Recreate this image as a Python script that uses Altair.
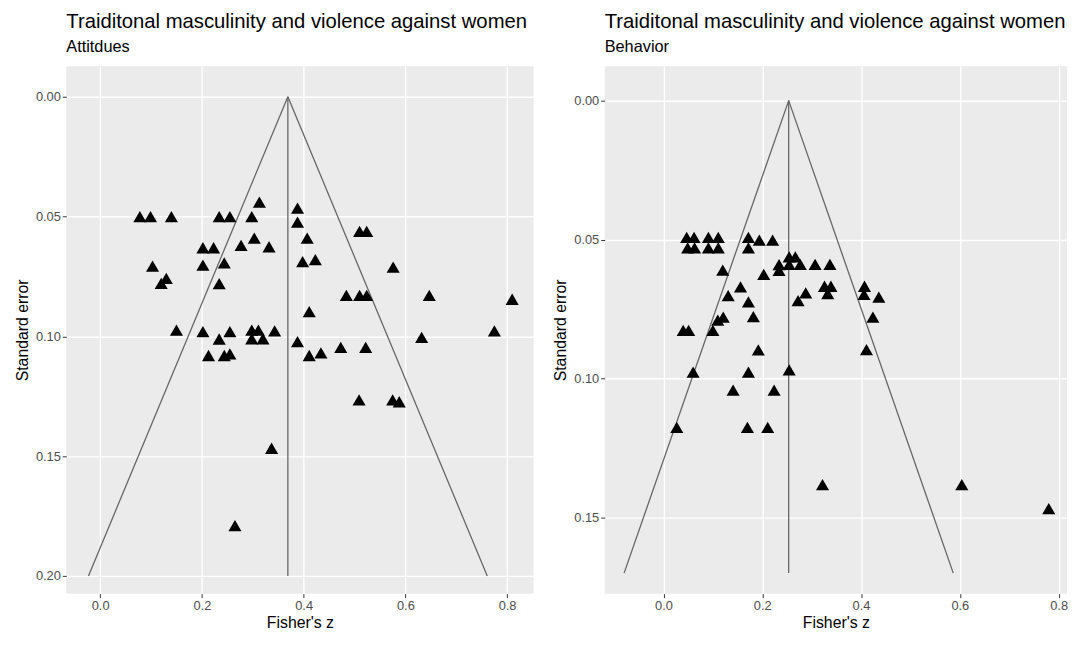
import altair as alt
import pandas as pd

title_text = "Traiditonal masculinity and violence against women"
left_subtitle = "Attitdues"
right_subtitle = "Behavior"
x_title = "Fisher's z"
y_title = "Standard error"

# Attitudes panel (Fisher's z, standard error)
left_z = [0.078, 0.099, 0.140, 0.234, 0.255, 0.298, 0.313, 0.388, 0.388, 0.407,
          0.202, 0.223, 0.277, 0.303, 0.332, 0.103, 0.202, 0.244, 0.398, 0.423,
          0.130, 0.120, 0.234, 0.484, 0.411, 0.150, 0.202, 0.234, 0.255, 0.298,
          0.311, 0.298, 0.320, 0.343, 0.388, 0.213, 0.244, 0.255, 0.411, 0.434,
          0.473, 0.510, 0.524, 0.576, 0.510, 0.524, 0.647, 0.810, 0.522, 0.632,
          0.775, 0.509, 0.575, 0.588, 0.337, 0.265]
left_se = [0.050, 0.050, 0.050, 0.050, 0.050, 0.050, 0.044, 0.0465, 0.0523, 0.059,
           0.063, 0.063, 0.062, 0.059, 0.0626, 0.0707, 0.0703, 0.0693, 0.0688, 0.068,
           0.0758, 0.0779, 0.078, 0.0829, 0.0897, 0.0974, 0.098, 0.1011, 0.098, 0.0974,
           0.0974, 0.101, 0.101, 0.0977, 0.1022, 0.108, 0.108, 0.1073, 0.108, 0.1069,
           0.1046, 0.0562, 0.0562, 0.0711, 0.0829, 0.0829, 0.0829, 0.0845, 0.1046, 0.1004,
           0.0977, 0.1265, 0.1265, 0.1273, 0.1467, 0.179]
left_est = 0.369
left_se_max = 0.20

# Behavior panel
right_z = [0.047, 0.062, 0.091, 0.111, 0.172, 0.194, 0.221,
           0.049, 0.063, 0.091, 0.111, 0.172,
           0.120, 0.203, 0.156, 0.234, 0.234,
           0.2545, 0.267, 0.2545, 0.277, 0.307, 0.337,
           0.131, 0.172, 0.182, 0.121, 0.110,
           0.100, 0.040, 0.051,
           0.192, 0.060, 0.172, 0.2545,
           0.141, 0.224, 0.2725, 0.288,
           0.326, 0.339, 0.3326,
           0.407, 0.406, 0.436, 0.424, 0.411,
           0.027, 0.170, 0.211,
           0.322, 0.604, 0.780]
right_se = [0.0492, 0.0492, 0.0492, 0.0492, 0.0492, 0.0502, 0.0502,
            0.053, 0.053, 0.053, 0.053, 0.053,
            0.061, 0.0625, 0.067, 0.0590, 0.0611,
            0.0562, 0.0562, 0.0589, 0.0589, 0.0589, 0.0589,
            0.0702, 0.0724, 0.0777, 0.0779, 0.0790,
            0.0827, 0.0827, 0.0827,
            0.0897, 0.0977, 0.0977, 0.0969,
            0.1042, 0.1042, 0.0720, 0.0692,
            0.0668, 0.0668, 0.0694,
            0.0668, 0.0697, 0.0707, 0.0779, 0.0896,
            0.1176, 0.1176, 0.1176,
            0.1382, 0.1382, 0.1468]
right_est = 0.2535
right_se_max = 0.17

x_ticks = [0.0, 0.2, 0.4, 0.6, 0.8]
left_y_ticks = [0.00, 0.05, 0.10, 0.15, 0.20]
right_y_ticks = [0.00, 0.05, 0.10, 0.15]

FONT = "Liberation Sans"


def panel(z, se, est, se_max, subtitle, xdom, ydom, yticks, w, h):
    pts = pd.DataFrame({"z": z, "se": se})
    fun = pd.DataFrame({
        "x": [est, est, est],
        "y": [0.0, 0.0, 0.0],
        "x2": [est - 1.96 * se_max, est, est + 1.96 * se_max],
        "y2": [se_max, se_max, se_max],
    })
    xs = alt.Scale(domain=xdom, nice=False, zero=False)
    ys = alt.Scale(domain=ydom, nice=False, zero=False, reverse=True)
    xax = alt.Axis(values=x_ticks, format=".1f", title=x_title)
    yax = alt.Axis(values=yticks, format=".2f", title=y_title)
    lines = alt.Chart(fun).mark_rule(color="#666666", strokeWidth=1.3).encode(
        x=alt.X("x:Q", scale=xs, axis=xax),
        y=alt.Y("y:Q", scale=ys, axis=yax),
        x2="x2:Q",
        y2="y2:Q",
    )
    points = alt.Chart(pts).mark_point(
        shape="triangle-up", filled=True, color="black", opacity=1, size=175
    ).encode(
        x=alt.X("z:Q", scale=xs, axis=xax),
        y=alt.Y("se:Q", scale=ys, axis=yax),
    )
    return alt.layer(lines, points).properties(
        width=w,
        height=h,
        title=alt.TitleParams(
            text=title_text,
            subtitle=subtitle,
            anchor="start",
            frame="group",
            font=FONT,
            fontSize=20.5,
            fontWeight="normal",
            color="black",
            subtitleFont=FONT,
            subtitleFontSize=16.5,
            subtitleColor="black",
            subtitlePadding=7.5,
            offset=10.5,
        ),
    )


left = panel(left_z, left_se, left_est, left_se_max, left_subtitle,
             [-0.0666, 0.852], [-0.0128, 0.2074], left_y_ticks, 473, 534)
right = panel(right_z, right_se, right_est, right_se_max, right_subtitle,
              [-0.119, 0.817], [-0.0124, 0.1774], right_y_ticks, 468, 534)

chart = alt.hconcat(left, right, spacing=19).properties(
    padding={"left": 6, "top": 0, "right": 0, "bottom": 0}
).configure_view(
    fill="#EBEBEB", stroke=None
).configure_axis(
    domain=False,
    grid=True,
    gridColor="white",
    gridWidth=1.4,
    tickColor="#333333",
    tickSize=4,
    tickWidth=1,
    labelColor="#4D4D4D",
    labelFont=FONT,
    labelFontSize=13,
    labelPadding=2,
    titleFont=FONT,
    titleFontSize=16,
    titleFontWeight="normal",
    titleColor="black",
    titlePadding=5,
).configure_axisX(
    titlePadding=2
)

chart.save("out.html", embed_options={"renderer": "svg", "actions": False})
